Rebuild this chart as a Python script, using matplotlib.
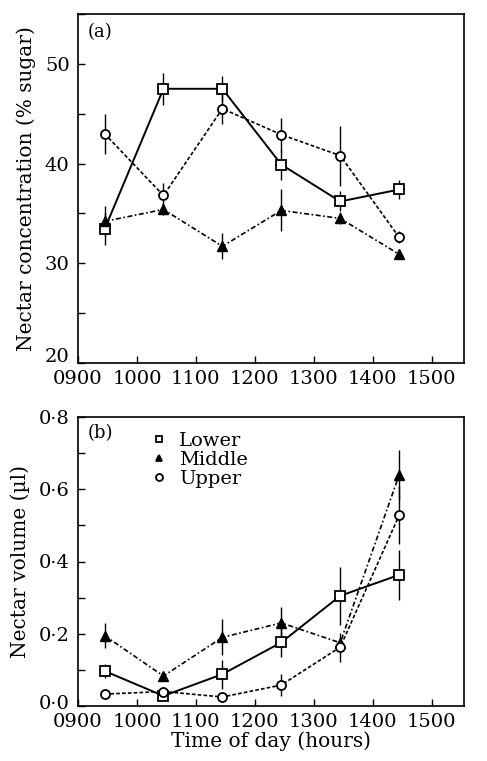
import matplotlib
matplotlib.use("Agg")
import matplotlib.pyplot as plt
import matplotlib.transforms as mtransforms
from matplotlib.ticker import MultipleLocator

plt.rcParams['font.family'] = ['DejaVu Serif']

times = [945, 1045, 1145, 1245, 1345, 1445]
xticks = [900, 1000, 1100, 1200, 1300, 1400, 1500]
xticklabels = ["0900", "1000", "1100", "1200", "1300", "1400", "1500"]

# Panel (a): nectar concentration (% sugar)
conc_lower = [33.4, 47.5, 47.5, 39.9, 36.2, 37.4]
conc_lower_err = [1.6, 1.6, 1.3, 1.5, 1.0, 1.0]
conc_middle = [34.2, 35.4, 31.7, 35.3, 34.5, 30.9]
conc_middle_err = [1.5, 0.6, 1.3, 2.1, 0.6, 0.3]
conc_upper = [43.0, 36.8, 45.5, 42.9, 40.8, 32.6]
conc_upper_err = [2.0, 1.3, 1.5, 1.7, 3.0, 0.6]

# Panel (b): nectar volume (µl)
vol_lower = [0.097, 0.028, 0.088, 0.176, 0.305, 0.363]
vol_lower_err = [0.02, 0.01, 0.04, 0.04, 0.08, 0.07]
vol_middle = [0.195, 0.083, 0.19, 0.23, 0.175, 0.64]
vol_middle_err = [0.035, 0.01, 0.05, 0.045, 0.01, 0.07]
vol_upper = [0.033, 0.04, 0.025, 0.058, 0.163, 0.528]
vol_upper_err = [0.015, 0.01, 0.008, 0.03, 0.04, 0.08]

series_names = ["Lower", "Middle", "Upper"]

W, H = 487, 761
fig = plt.figure(figsize=(W / 100, H / 100), dpi=100)
ax1 = fig.add_axes([78 / W, 1 - 363 / H, (464 - 78) / W, (363 - 14) / H])
ax2 = fig.add_axes([78 / W, 1 - 706 / H, (464 - 78) / W, (706 - 417) / H])

styles = [
    dict(marker='s', mfc='white', mec='black', ms=6.5, mew=1.3, ls='-', lw=1.4),
    dict(marker='^', mfc='black', mec='black', ms=7, mew=1.0, ls=(0, (3, 1.5, 1, 1.5)), lw=1.2),
    dict(marker='o', mfc='white', mec='black', ms=6.5, mew=1.3, ls=(0, (2.2, 1.3)), lw=1.2),
]

def draw(ax, data):
    handles = []
    for (vals, errs), st, name in zip(data, styles, series_names):
        ax.errorbar(times, vals, yerr=errs, fmt='none', ecolor='black',
                    elinewidth=1.0, capsize=0, zorder=2)
        ax.plot(times, vals, color='black', zorder=3, **st)
        h, = ax.plot([], [], linestyle='none', marker=st['marker'],
                     mfc=st['mfc'], mec='black', ms=5, mew=1.3, label=name)
        handles.append(h)
    ax.set_xlim(900, 1555)
    ax.set_xticks(xticks)
    ax.set_xticklabels(xticklabels)
    ax.tick_params(direction='in', length=5, width=1, labelsize=14,
                   top=False, right=False)
    ax.tick_params(axis='y', pad=6)
    ax.tick_params(axis='x', pad=5)
    ax.tick_params(which='minor', direction='in', length=5, width=1)
    for s in ax.spines.values():
        s.set_linewidth(1.2)
    return handles

def lift_first_ylabel(ax, dy_pts):
    lab = ax.get_yticklabels()[0]
    lab.set_transform(lab.get_transform() +
                      mtransforms.ScaledTranslation(0, dy_pts / 72, fig.dpi_scale_trans))

draw(ax1, [(conc_lower, conc_lower_err), (conc_middle, conc_middle_err),
           (conc_upper, conc_upper_err)])
ax1.set_ylim(20, 55)
ax1.set_yticks([20, 30, 40, 50])
ax1.yaxis.set_minor_locator(MultipleLocator(5))
ax1.set_ylabel("Nectar concentration (% sugar)", fontsize=14.5, labelpad=6)
ax1.text(0.025, 0.975, "(a)", transform=ax1.transAxes, fontsize=13,
         va='top', ha='left')
lift_first_ylabel(ax1, 6)

handles = draw(ax2, [(vol_lower, vol_lower_err), (vol_middle, vol_middle_err),
                     (vol_upper, vol_upper_err)])
ax2.set_ylim(0, 0.8)
ax2.set_yticks([0.0, 0.2, 0.4, 0.6, 0.8])
ax2.set_yticklabels(["0·0", "0·2", "0·4", "0·6", "0·8"])
ax2.yaxis.set_minor_locator(MultipleLocator(0.1))
ax2.set_ylabel("Nectar volume (µl)", fontsize=14.5, labelpad=6)
ax2.set_xlabel("Time of day (hours)", fontsize=14.5, labelpad=0)
ax2.text(0.025, 0.975, "(b)", transform=ax2.transAxes, fontsize=13,
         va='top', ha='left')
ax2.legend(handles=handles, loc='upper left', bbox_to_anchor=(0.16, 0.99),
           frameon=False, fontsize=14, handlelength=0.8, handletextpad=0.6,
           labelspacing=0.05, borderaxespad=0.2)
lift_first_ylabel(ax2, 3)

fig.savefig("out.png", dpi=100)
